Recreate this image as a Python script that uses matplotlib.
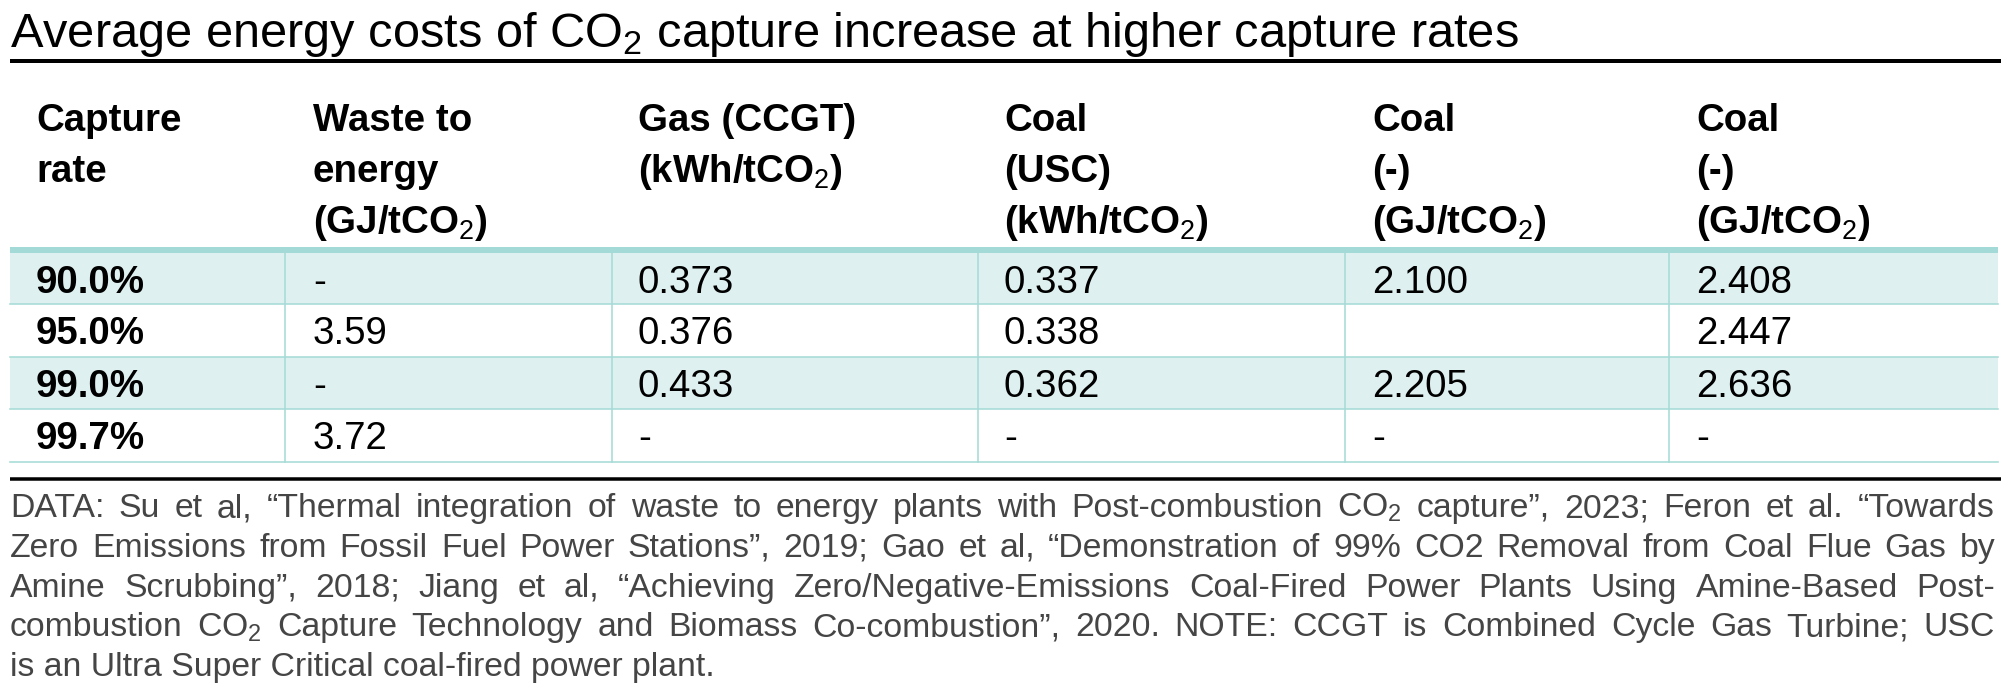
import matplotlib
matplotlib.use("Agg")
import matplotlib.pyplot as plt

plt.rcParams['font.family'] = ['Liberation Sans', 'DejaVu Sans']
plt.rcParams['mathtext.fontset'] = 'custom'
plt.rcParams['mathtext.rm'] = 'Liberation Sans'
plt.rcParams['mathtext.it'] = 'Liberation Sans:italic'
plt.rcParams['mathtext.bf'] = 'Liberation Sans:bold'

# ---------------- data ----------------
title = "Average energy costs of CO$_2$ capture increase at higher capture rates"

headers = [
    ["Capture", "rate"],
    ["Waste to", "energy", "(GJ/tCO$_2$)"],
    ["Gas (CCGT)", "(kWh/tCO$_2$)"],
    ["Coal", "(USC)", "(kWh/tCO$_2$)"],
    ["Coal", "(-)", "(GJ/tCO$_2$)"],
    ["Coal", "(-)", "(GJ/tCO$_2$)"],
]

capture_rate = ["90.0%", "95.0%", "99.0%", "99.7%"]
waste_to_energy = ["-", "3.59", "-", "3.72"]
gas_ccgt = ["0.373", "0.376", "0.433", "-"]
coal_usc = ["0.337", "0.338", "0.362", "-"]
coal_a = ["2.100", "", "2.205", "-"]
coal_b = ["2.408", "2.447", "2.636", "-"]

footer_lines = [
    "DATA: Su et al, \u201cThermal integration of waste to energy plants with Post-combustion CO$_2$ capture\u201d, 2023; Feron et al. \u201cTowards",
    "Zero Emissions from Fossil Fuel Power Stations\u201d, 2019; Gao et al, \u201cDemonstration of 99% CO2 Removal from Coal Flue Gas by",
    "Amine Scrubbing\u201d, 2018; Jiang et al, \u201cAchieving Zero/Negative-Emissions Coal-Fired Power Plants Using Amine-Based Post-",
    "combustion CO$_2$ Capture Technology and Biomass Co-combustion\u201d, 2020. NOTE: CCGT is Combined Cycle Gas Turbine; USC",
    "is an Ultra Super Critical coal-fired power plant.",
]

columns = [capture_rate, waste_to_energy, gas_ccgt, coal_usc, coal_a, coal_b]

# ---------------- layout ----------------
W, H = 2012, 691
fig = plt.figure(figsize=(W / 100, H / 100), dpi=100)
ax = fig.add_axes([0, 0, 1, 1])
ax.set_xlim(0, W)
ax.set_ylim(H, 0)
ax.axis('off')

def px2pt(px):
    return px * 72 / 100

teal_thick = '#a3d9d6'
teal_thin = '#a6dbd7'
shade = '#dff0f0'
footer_col = '#454545'

left, right_tab, right_line = 10, 1998, 2001
col_lines = [285, 612, 978, 1345, 1669]
col_text_x = [36, 313, 638, 1004, 1372, 1696]

# title
ax.text(left, 47, title, fontsize=px2pt(48.7), color='black', ha='left', va='baseline')
ax.plot([left, right_line], [61, 61], color='black', lw=px2pt(4), solid_capstyle='butt')

# header
head_base = [131, 182, 233]
for ci, lines in enumerate(headers):
    for li, t in enumerate(lines):
        ax.text(col_text_x[ci], head_base[li], t, fontsize=px2pt(38.5), fontweight='bold',
                color='black', ha='left', va='baseline')

# body
row_tops = [253, 304, 357, 409]
row_bot = 462
row_edges = row_tops + [row_bot]
for ri in range(len(capture_rate)):
    if ri % 2 == 0:
        ax.fill_between([left, right_tab], row_edges[ri], row_edges[ri + 1], color=shade, lw=0)
for y in row_edges[1:]:
    ax.plot([left, right_tab], [y, y], color=teal_thin, lw=px2pt(1.6))
for x in col_lines:
    ax.plot([x, x], [row_edges[0], row_bot], color=teal_thin, lw=px2pt(1.6))
ax.fill_between([left, right_tab], 247, 253, color=teal_thick, lw=0)

for ci, col in enumerate(columns):
    for ri, v in enumerate(col):
        ax.text(col_text_x[ci], row_tops[ri] + 40, v, fontsize=px2pt(38.5),
                fontweight='bold' if ci == 0 else 'normal', color='black',
                ha='left', va='baseline')

ax.plot([left, right_line], [479, 479], color='black', lw=px2pt(3.5), solid_capstyle='butt')

# footer, justified
fig.canvas.draw()
renderer = fig.canvas.get_renderer()
fs_foot = px2pt(33.8)
foot_left, foot_right = 10, 1995
for li, line in enumerate(footer_lines):
    y = 517 + 39.8 * li
    words = line.split(' ')
    if li == len(footer_lines) - 1:
        ax.text(foot_left, y, line, fontsize=fs_foot, color=footer_col, ha='left', va='baseline')
        continue
    objs = [ax.text(0, y, w, fontsize=fs_foot, color=footer_col, ha='left', va='baseline') for w in words]
    widths = [o.get_window_extent(renderer).width for o in objs]
    gap = (foot_right - foot_left - sum(widths)) / (len(words) - 1)
    x = foot_left
    for o, w in zip(objs, widths):
        o.set_x(x)
        x += w + gap

fig.savefig('out.png', dpi=100)
